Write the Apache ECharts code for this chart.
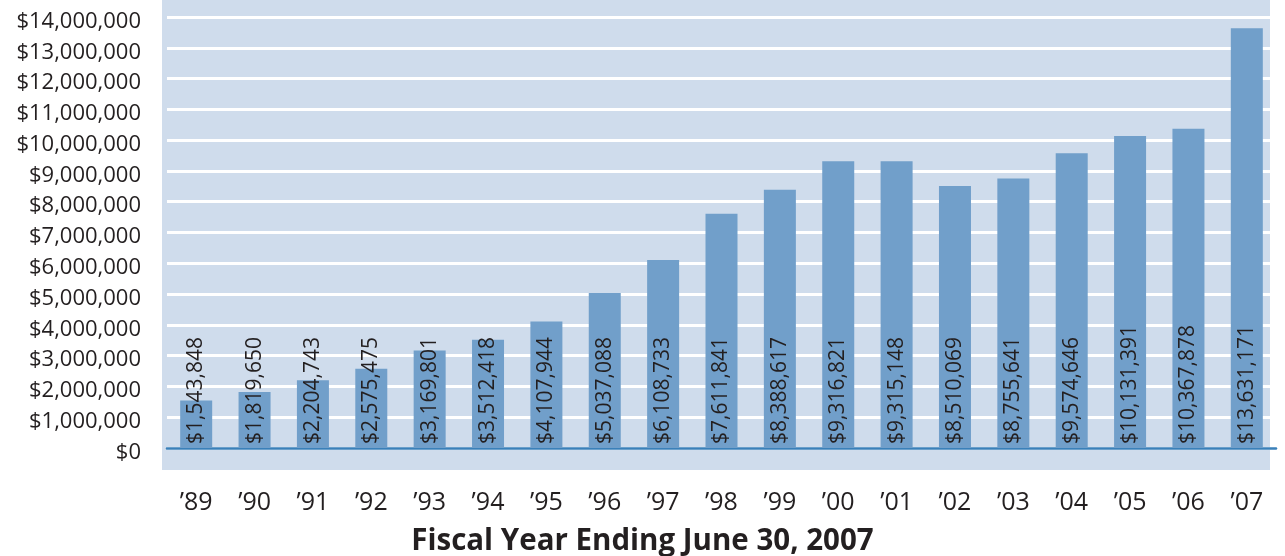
<!DOCTYPE html>
<html><head><meta charset="utf-8">
<script src="https://cdn.jsdelivr.net/npm/echarts@6/dist/echarts.min.js"></script>
<style>html,body{margin:0;padding:0;background:#fff}#c{width:1285px;height:556px}</style>
</head><body><div id="c"></div>
<script>
const years = ["’89","’90","’91","’92","’93","’94","’95","’96","’97","’98","’99","’00","’01","’02","’03","’04","’05","’06","’07"];
const amounts = [1543848,1819650,2204743,2575475,3169801,3512418,4107944,5037088,6108733,7611841,8388617,9316821,9315148,8510069,8755641,9574646,10131391,10367878,13631171];
const axisTitle = "Fiscal Year Ending June 30, 2007";

const fmt = v => '$' + Math.round(v).toLocaleString('en-US');
const chart = echarts.init(document.getElementById('c'));
chart.setOption({
  animation: false,
  textStyle: {fontFamily: 'Open Sans'},
  title: {text: axisTitle, left: 'center', top: 527, padding: 0,
    textStyle: {color: '#231f20', fontSize: 29.5, fontWeight: 'bold', fontFamily: 'Open Sans'}},
  graphic: [{type: 'rect', z: -100, silent: true, shape: {x: 162, y: 0, width: 1108, height: 470}, style: {fill: '#cfdcec'}}],
  grid: {left: 167, right: 9, top: 17, bottom: 108, containLabel: false},
  xAxis: {
    type: 'category', data: years,
    axisLine: {lineStyle: {color: '#3a80b9', width: 2.5}},
    axisTick: {show: false},
    axisLabel: {color: '#231f20', fontSize: 25, margin: 42, fontFamily: 'Open Sans'}
  },
  yAxis: {
    type: 'value', min: 0, max: 14000000, interval: 1000000,
    axisLine: {show: false}, axisTick: {show: false},
    splitLine: {lineStyle: {color: '#ffffff', width: 3}},
    axisLabel: {color: '#231f20', fontSize: 22, margin: 26, verticalAlign: 'top', lineHeight: 9, formatter: fmt, fontFamily: 'Open Sans'}
  },
  series: [{
    type: 'bar', data: amounts, barWidth: 32,
    itemStyle: {color: '#719fca'},
    label: {show: true, position: 'insideBottom', rotate: 90, align: 'left', verticalAlign: 'middle', distance: 4,
      formatter: p => fmt(p.value), color: '#231f20', fontSize: 21, fontFamily: 'Open Sans'}
  }]
});
</script></body></html>
